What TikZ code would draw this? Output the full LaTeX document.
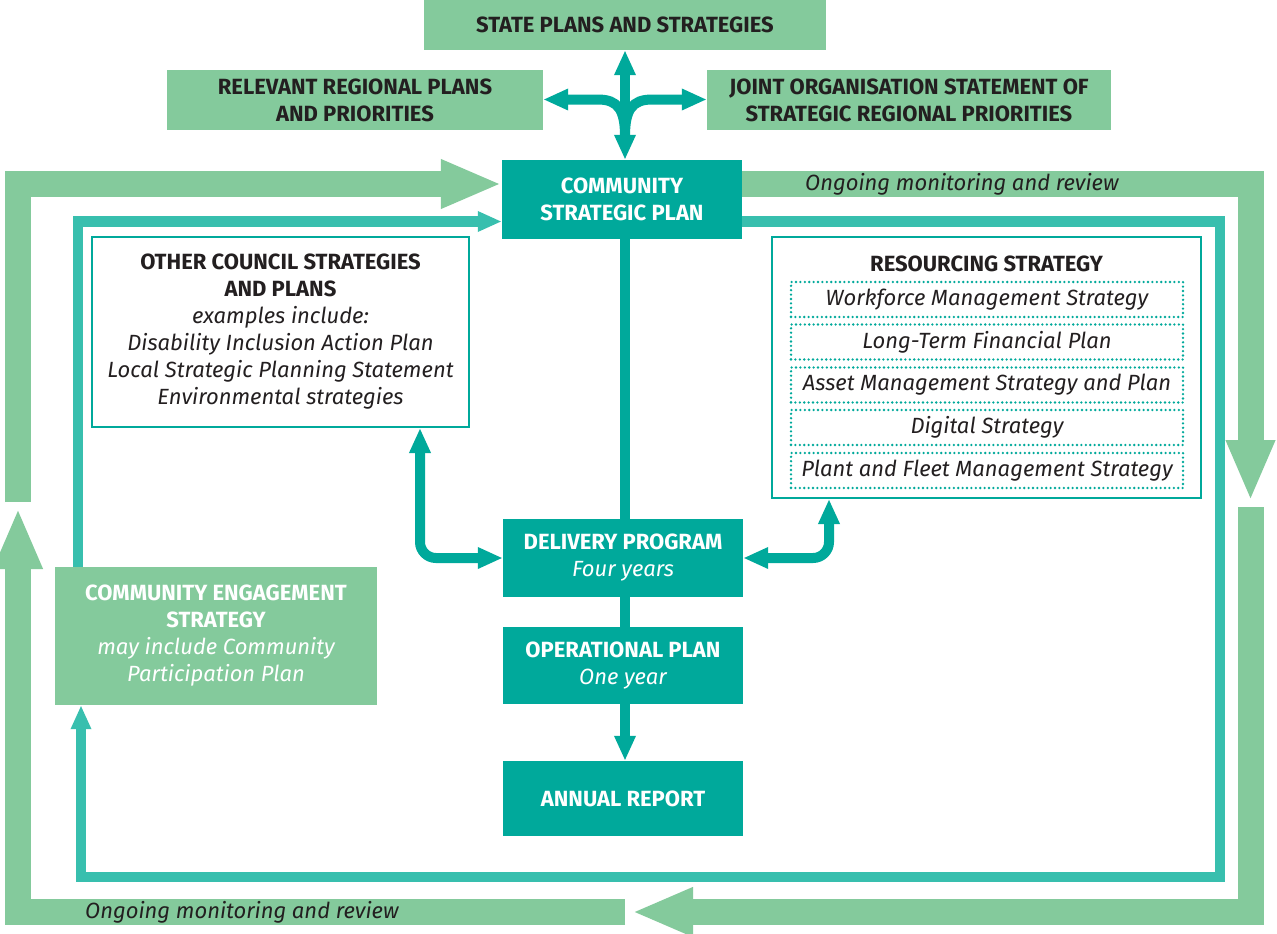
\documentclass[tikz,border=0pt]{standalone}
\usepackage{fontspec}
\setmainfont{Fira Sans}
\usetikzlibrary{arrows.meta}
\definecolor{lgreen}{HTML}{84CA9C}
\definecolor{dteal}{HTML}{00A99B}
\definecolor{mteal}{HTML}{38BFAE}
\definecolor{ink}{HTML}{231F20}
\newcommand\fsz{\fontsize{22}{27}\selectfont}
\tikzset{
  base/.style={inner sep=0pt, align=center, font=\fsz},
  greenbox/.style={base, fill=lgreen, text=ink},
  tealbox/.style={base, fill=dteal, text=white},
  whitebox/.style={base, fill=white, draw=dteal, line width=2pt, text=ink},
  dotbox/.style={base, draw=dteal, line width=2.6pt, dash pattern=on 0pt off 4.4pt, line cap=round, text=ink},
  gloop/.style={draw=lgreen, line width=26pt, line join=miter, -{Triangle[length=61pt,width=45pt]}},
  tloop/.style={draw=mteal, line width=10.5pt, line join=miter, -{Triangle[length=24pt,width=19pt]}},
  link/.style={draw=dteal, line width=10pt},
  tipb/.tip={Triangle[length=25pt,width=20pt]},
  note/.style={inner sep=0pt, font=\fsz\itshape, text=ink, anchor=west}
}
\begin{document}
\begin{tikzpicture}[x=1pt,y=-1pt]
\useasboundingbox (0,0) rectangle (1277,934);
\fill[white] (0,0) rectangle (1277,934);

% nodes
\node[greenbox, minimum width=402pt, minimum height=50pt] (state) at (625,25) {\bfseries STATE PLANS AND STRATEGIES};
\node[greenbox, minimum width=376pt, minimum height=60pt] (regional) at (355,100) {\bfseries RELEVANT REGIONAL PLANS\\\bfseries AND PRIORITIES};
\node[greenbox, minimum width=404pt, minimum height=60pt] (joint) at (909,100) {\bfseries JOINT ORGANISATION STATEMENT OF\\\bfseries STRATEGIC REGIONAL PRIORITIES};
\node[tealbox, minimum width=240pt, minimum height=79pt] (csp) at (622,199.5) {\bfseries COMMUNITY\\\bfseries STRATEGIC PLAN};
\node[whitebox, minimum width=377pt, minimum height=190pt] (ocs) at (280.5,332) {\bfseries OTHER COUNCIL STRATEGIES\\\bfseries AND PLANS\\\itshape examples include:\\\itshape Disability Inclusion Action Plan\\\itshape Local Strategic Planning Statement\\\itshape Environmental strategies};
\node[whitebox, minimum width=429pt, minimum height=261pt] (res) at (986.5,367.5) {};
\node[base, text=ink] (restitle) at (986.5,264) {\bfseries RESOURCING STRATEGY};
\node[dotbox, minimum width=392pt, minimum height=35pt] (r1) at (987,299.5) {\itshape Workforce Management Strategy};
\node[dotbox, minimum width=392pt, minimum height=35pt] (r2) at (987,342) {\itshape Long-Term Financial Plan};
\node[dotbox, minimum width=392pt, minimum height=35pt] (r3) at (987,385) {\itshape Asset Management Strategy and Plan};
\node[dotbox, minimum width=392pt, minimum height=35pt] (r4) at (987,427.5) {\itshape Digital Strategy};
\node[dotbox, minimum width=392pt, minimum height=35pt] (r5) at (987,470.5) {\itshape Plant and Fleet Management Strategy};
\node[tealbox, minimum width=240pt, minimum height=78pt] (dp) at (623,558) {\bfseries DELIVERY PROGRAM\\\itshape Four years};
\node[tealbox, minimum width=240pt, minimum height=77pt] (op) at (623,665.5) {\bfseries OPERATIONAL PLAN\\\itshape One year};
\node[tealbox, minimum width=240pt, minimum height=75pt] (ar) at (623,798.5) {\bfseries ANNUAL REPORT};
\node[greenbox, text=white, minimum width=322pt, minimum height=138pt] (ce) at (216,636) {\bfseries COMMUNITY ENGAGEMENT\\\bfseries STRATEGY\\\itshape may include Community\\\itshape Participation Plan};

% coordinates
\coordinate (gTL) at (18,184);
\coordinate (gTR) at (1250.5,184);
\coordinate (gBR) at (1250.5,912);
\coordinate (gBL) at (18,912);
\coordinate (gA) at (18,502);
\coordinate (gB) at (1250.5,501);
\coordinate (gC) at (1250.5,507);
\coordinate (gD) at (632,912);
\coordinate (gE) at (625,912);
\coordinate (gF) at (18,508);
\coordinate (tTL) at (78,221.5);
\coordinate (tTR) at (1220,221.5);
\coordinate (tBR) at (1220,877);
\coordinate (tBL) at (81,877);
\coordinate (sx) at (625,0);
\coordinate (c1) at (420,0);
\coordinate (c2) at (829,0);
\coordinate (bj) at (625,136);
\coordinate (bl) at (598,99.5);
\coordinate (br) at (652,99.5);

% green outer loop
\draw[gloop] (gA) -- (gTL) -- (csp.west |- gTL);
\draw[gloop] (csp.east |- gTR) -- (gTR) -- (gB);
\draw[gloop] (gC) -- (gBR) -- (gD);
\draw[gloop] (gE) -- (gBL) -- (gF);
\node[note] (n1) at (805,184) {Ongoing monitoring and review};
\node[note] (n2) at (85,912) {Ongoing monitoring and review};

% teal loop
\draw[tloop] (ce.north -| tTL) -- (tTL) -- (csp.west |- tTL);
\draw[tloop] (csp.east |- tTR) -- (tTR) -- (tBR) -- (tBL) -- (ce.south -| tBL);

% top links
\draw[link, tipb-tipb] (csp.north -| sx) -- (state.south -| sx);
\draw[link, -tipb] (bj) .. controls (625,110) and (618,99.5) .. (bl) -- (regional.east |- bl);
\draw[link, -tipb] (bj) .. controls (625,110) and (632,99.5) .. (br) -- (joint.west |- br);

% central chain
\draw[link] (csp.south -| sx) -- (dp.north -| sx);
\draw[link] (dp.south -| sx) -- (op.north -| sx);
\draw[link, -tipb] (op.south -| sx) -- (ar.north -| sx);

% side links
\draw[link, rounded corners=16pt, tipb-tipb] (ocs.south -| c1) -- (c1 |- dp.west) -- (dp.west);
\draw[link, rounded corners=16pt, tipb-tipb] (dp.east) -- (c2 |- dp.east) -- (res.south -| c2);
\end{tikzpicture}
\end{document}
